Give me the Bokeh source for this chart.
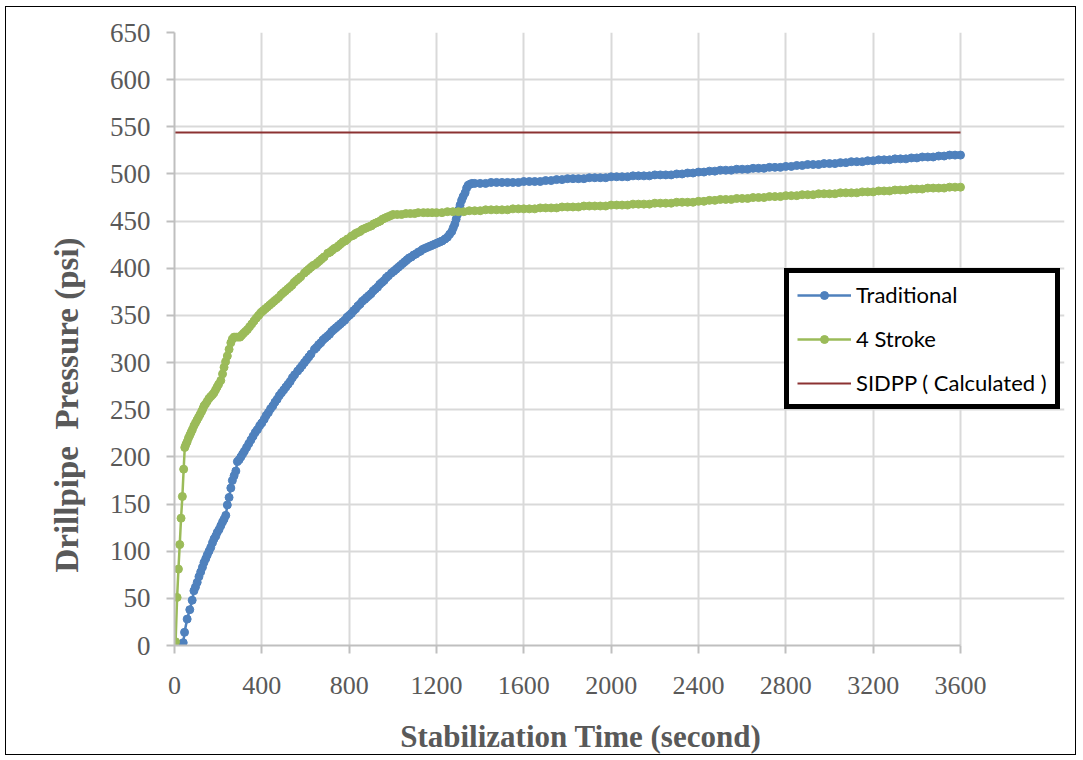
from bokeh.plotting import figure
from bokeh.models import FixedTicker, Legend, LegendItem
from bokeh.embed import file_html
from bokeh.resources import INLINE

# ---------------- data ----------------
x_ticks = [0, 400, 800, 1200, 1600, 2000, 2400, 2800, 3200, 3600]
y_ticks = [0, 50, 100, 150, 200, 250, 300, 350, 400, 450, 500, 550, 600, 650]

trad_time = [0, 6, 12, 18, 24, 30, 36, 40, 46, 58, 70, 81, 89, 96, 104, 112, 120, 128, 135, 143, 150,
             158, 166, 174, 181, 189, 196, 204, 212, 220, 227, 235, 242, 250, 258, 265, 273, 281, 288,
             296, 304, 312, 320, 330, 340, 350, 360, 370, 380, 390, 400, 411, 420, 430, 440, 450, 460,
             470, 480, 490, 500, 510, 520, 530, 540, 550, 564, 575, 585, 595, 605, 615, 625, 641, 650,
             660, 670, 680, 690, 700, 710, 720, 730, 740, 750, 760, 770, 780, 790, 800, 810, 820, 830,
             840, 850, 860, 871, 880, 890, 900, 910, 920, 930, 940, 950, 960, 970, 980, 994, 1005, 1015,
             1025, 1035, 1045, 1055, 1065, 1075, 1085, 1095, 1105, 1116, 1126, 1136, 1146, 1156, 1166,
             1176, 1186, 1196, 1206, 1216, 1226, 1239, 1250, 1260, 1270, 1277, 1284, 1290, 1296, 1302,
             1308, 1315, 1322, 1331, 1338, 1345, 1353, 1362, 1375, 1400, 1425, 1450, 1475, 1500, 1525,
             1550, 1575, 1600, 1625, 1650, 1675, 1700, 1725, 1750, 1775, 1800, 1825, 1850, 1875, 1900,
             1925, 1950, 1975, 2000, 2025, 2050, 2075, 2100, 2125, 2150, 2175, 2200, 2225, 2250, 2275,
             2300, 2325, 2350, 2375, 2400, 2425, 2450, 2475, 2500, 2525, 2550, 2575, 2600, 2625, 2650,
             2675, 2700, 2725, 2750, 2775, 2800, 2825, 2850, 2875, 2900, 2925, 2950, 2975, 3000, 3025,
             3050, 3075, 3100, 3125, 3150, 3175, 3200, 3225, 3250, 3275, 3300, 3325, 3350, 3375, 3400,
             3425, 3450, 3475, 3500, 3525, 3550, 3575, 3600]
trad_psi = [0, 0, 1, 0, 1, 0, 1, 3, 14, 28, 38, 48, 58, 62, 67, 73, 78, 83, 88, 92, 96,
            100, 104, 109, 113, 116, 120, 123, 127, 131, 134, 138, 149, 157, 167, 175, 180, 185, 195,
            197, 200, 203, 206, 210, 214, 218, 222, 226, 229, 233, 236, 240, 244, 247, 251, 254, 258,
            261, 265, 268, 271, 274, 277, 280, 284, 287, 291, 294, 297, 300, 303, 306, 309, 314, 316,
            319, 321, 324, 326, 328, 330, 333, 335, 337, 339, 341, 343, 345, 348, 350, 352, 355, 357,
            360, 362, 365, 367, 369, 371, 373, 376, 378, 380, 383, 385, 387, 390, 392, 395, 397, 399,
            401, 403, 405, 407, 409, 411, 412, 414, 415, 417, 418, 420, 421, 422, 423,
            424, 425, 426, 427, 428, 429, 431, 433, 436, 439, 443, 447, 452, 457, 462,
            467, 472, 476, 480, 485, 488, 489, 490, 490, 490, 490, 491, 491, 491, 491,
            491, 491, 492, 492, 492, 492, 493, 493, 494, 494, 495, 495, 495, 495, 496,
            496, 496, 496, 497, 497, 497, 497, 498, 498, 498, 498, 499, 499, 499, 499,
            500, 500, 501, 501, 502, 502, 503, 503, 504, 504, 504, 505, 505, 505, 506,
            506, 506, 507, 507, 507, 508, 508, 509, 509, 510, 510, 510, 511, 511, 511,
            512, 512, 513, 513, 513, 514, 514, 515, 515, 515, 516, 516, 516, 517, 517,
            518, 518, 518, 519, 519, 520, 520, 520]

stroke_time = [5, 12, 18, 24, 30, 36, 42, 47, 52, 58, 64, 70, 76, 82, 89, 96, 103, 110, 117, 124, 130,
               135, 142, 150, 158, 166, 174, 181, 188, 195, 202, 212, 220, 227, 234, 242, 250, 258, 265,
               273, 282, 291, 300, 308, 316, 325, 334, 344, 354, 364, 374, 385, 396, 406, 416, 426, 436,
               446, 456, 466, 477, 488, 498, 508, 518, 528, 538, 548, 558, 568, 578, 595, 605, 615, 625,
               635, 645, 655, 665, 675, 685, 702, 712, 722, 732, 742, 752, 762, 772, 782, 792, 810, 820,
               830, 840, 850, 860, 870, 880, 890, 902, 912, 922, 932, 942, 952, 962, 972, 982, 992, 1001,
               1020, 1040, 1060, 1080, 1100, 1116, 1140, 1160, 1180, 1200, 1225, 1250, 1275, 1300, 1325,
               1350, 1375, 1400, 1425, 1450, 1475, 1500, 1525, 1550, 1575, 1600, 1625, 1650, 1675, 1700,
               1725, 1750, 1775, 1800, 1825, 1850, 1875, 1900, 1925, 1950, 1975, 2000, 2025, 2050, 2075,
               2100, 2125, 2150, 2175, 2200, 2225, 2250, 2275, 2300, 2325, 2350, 2375, 2400, 2425, 2450,
               2475, 2500, 2525, 2550, 2575, 2600, 2625, 2650, 2675, 2700, 2725, 2750, 2775, 2800, 2825,
               2850, 2875, 2900, 2925, 2950, 2975, 3000, 3025, 3050, 3075, 3100, 3125, 3150, 3175, 3200,
               3225, 3250, 3275, 3300, 3325, 3350, 3375, 3400, 3425, 3450, 3475, 3500, 3525, 3550, 3575,
               3600]
stroke_psi = [4, 51, 81, 107, 135, 158, 187, 210, 213, 216, 220, 223, 226, 229, 233, 236, 239, 242, 245, 248, 251,
              254, 256, 259, 262, 264, 266, 268, 271, 274, 277, 281, 288, 295, 301, 307, 314, 321, 325,
              327, 327, 327, 327, 329, 331, 333, 335, 338, 341, 344, 347, 350, 353, 355, 357, 359, 361,
              363, 365, 367, 369, 372, 374, 376, 378, 380, 382, 385, 387, 389, 391, 395, 397, 399, 401,
              403, 404, 406, 408, 410, 412, 416, 417, 419, 421, 422, 424, 426, 428, 429, 431, 434, 435,
              437, 438, 439, 441, 442, 443, 444, 445, 447, 448, 449, 450, 452, 453, 454, 455, 456, 457,
              457, 457, 458, 458, 458, 459, 459, 459, 459, 459, 459, 460, 460, 460, 460,
              461, 461, 461, 462, 462, 462, 462, 462, 463, 463, 463, 463, 463, 464, 464,
              464, 464, 465, 465, 465, 465, 466, 466, 466, 466, 466, 467, 467, 467, 467,
              468, 468, 468, 468, 469, 469, 469, 469, 470, 470, 470, 470, 471, 471, 472,
              472, 473, 473, 473, 474, 474, 474, 475, 475, 475, 476, 476, 476, 477, 477,
              477, 478, 478, 478, 479, 479, 479, 479, 480, 480, 480, 480, 481, 481, 481,
              482, 482, 482, 483, 483, 483, 484, 484, 484, 485, 485, 485, 485, 486, 486,
              486]

sidpp_time = [0, 3600]
sidpp_psi = [544, 544]

BLUE = "#4f81bd"
GREEN = "#9bbb59"
DARKRED = "#8c3232"
GRAY_TXT = "#595959"
NB = "\u00a0"

# frame is widened to the right (past 3600) so the legend box is not clipped;
# grid and axis are bounded to 0..3600
FRAME_LEFT, FRAME_RIGHT_3600, FRAME_RIGHT = 174, 960, 1064
x_end = x_ticks[-1] * (FRAME_RIGHT - FRAME_LEFT) / (FRAME_RIGHT_3600 - FRAME_LEFT)

# ---------------- figure ----------------
p = figure(width=1071, height=749, x_range=(0, x_end), y_range=(0, 650),
           output_backend="svg", toolbar_location=None,
           min_border_left=168, min_border_right=13, min_border_top=25, min_border_bottom=109)
p.styles = {"border": "1px solid #000", "margin-left": "5px", "margin-top": "6px"}
p.outline_line_color = None
p.background_fill_color = "white"
p.border_fill_color = "white"

p.xaxis.ticker = FixedTicker(ticks=x_ticks)
p.yaxis.ticker = FixedTicker(ticks=y_ticks)
p.xgrid.ticker = FixedTicker(ticks=x_ticks)
p.ygrid.ticker = FixedTicker(ticks=y_ticks)
p.grid.grid_line_color = "#d9d9d9"
p.grid.grid_line_width = 2
p.ygrid.bounds = (0, 3600)
p.xaxis.bounds = (0, 3600)

for ax in (p.xaxis, p.yaxis):
    ax.axis_line_color = "#bfbfbf"
    ax.axis_line_width = 2
    ax.major_tick_line_color = "#bfbfbf"
    ax.major_tick_line_width = 2
    ax.major_tick_out = 8
    ax.major_tick_in = 0
    ax.minor_tick_line_color = None
    ax.major_label_text_color = GRAY_TXT
    ax.axis_label_text_color = GRAY_TXT
    ax.axis_label_text_font = "Liberation Serif"
    ax.axis_label_text_font_style = "bold"

p.yaxis.major_label_text_font = "Liberation Serif"
p.yaxis.major_label_text_font_size = "27px"
p.yaxis.major_label_standoff = 16
p.yaxis.axis_label = "Drillpipe" + NB + " Pressure (psi)" + NB * 16
p.yaxis.axis_label_text_font_size = "33px"
p.yaxis.axis_label_standoff = 22

p.xaxis.major_label_text_font = "Liberation Sans Narrow"
p.xaxis.major_label_text_font_size = "26px"
p.xaxis.major_label_standoff = 23
p.xaxis.axis_label = "Stabilization Time (second)" + NB * 10
p.xaxis.axis_label_text_font_size = "31px"
p.xaxis.axis_label_standoff = 22

# ---------------- series ----------------
l1 = p.line(trad_time, trad_psi, line_color=BLUE, line_width=2.5)
s1 = p.scatter(trad_time, trad_psi, size=8, fill_color=BLUE, line_color=BLUE)
l2 = p.line(stroke_time, stroke_psi, line_color=GREEN, line_width=2.5)
s2 = p.scatter(stroke_time, stroke_psi, size=8, fill_color=GREEN, line_color=GREEN)
l3 = p.line(sidpp_time, sidpp_psi, line_color=DARKRED, line_width=2)

legend = Legend(items=[LegendItem(label="Traditional", renderers=[l1, s1]),
                       LegendItem(label="4 Stroke", renderers=[l2, s2]),
                       LegendItem(label="SIDPP ( Calculated )", renderers=[l3])],
                location=(610, 236), orientation="vertical",
                border_line_color="black", border_line_width=5, border_line_alpha=1,
                background_fill_color="white", background_fill_alpha=1,
                padding=8, spacing=17, glyph_width=54, glyph_height=20, label_height=20,
                label_standoff=5, margin=0,
                label_text_font="Lato", label_text_font_size="22px", label_text_color="black")
p.add_layout(legend)

open("out.html", "w").write(file_html(p, INLINE))
